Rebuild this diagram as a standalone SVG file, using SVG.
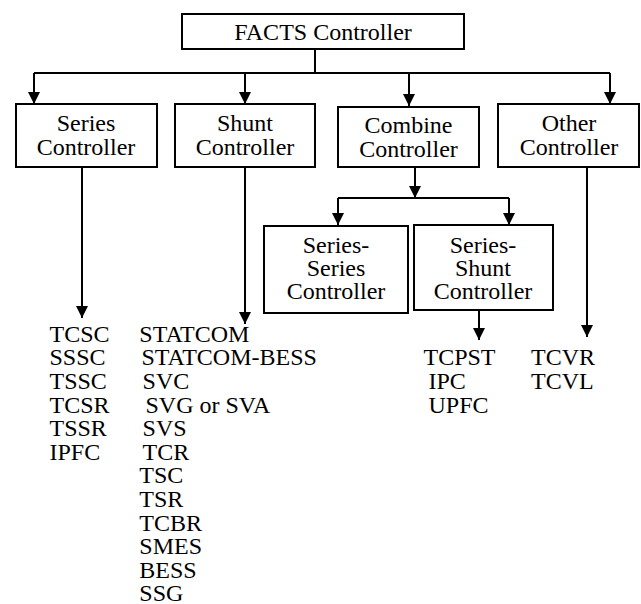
<svg xmlns="http://www.w3.org/2000/svg" width="641" height="604" viewBox="0 0 641 604">
  <style>
    .box { fill: #ffffff; stroke: #000000; stroke-width: 2; }
    .ln { fill: none; stroke: #000000; stroke-width: 2; }
  </style>
  <defs>
    <marker id="arr" markerUnits="userSpaceOnUse" markerWidth="12" markerHeight="12" refX="12" refY="6" orient="auto">
      <path d="M0,0 L12,6 L0,12 z" fill="#000000"/>
    </marker>
  </defs>
  <rect width="641" height="604" fill="#ffffff"/>

  <g id="connectors">
    <path class="ln" d="M315,49 L315,73"/>
    <path class="ln" d="M34,73 L610,73"/>
    <path class="ln" d="M34,73 L34,104" marker-end="url(#arr)"/>
    <path class="ln" d="M245,73 L245,104" marker-end="url(#arr)"/>
    <path class="ln" d="M409,73 L409,106" marker-end="url(#arr)"/>
    <path class="ln" d="M610,73 L610,104" marker-end="url(#arr)"/>
    <path class="ln" d="M82,167 L82,318" marker-end="url(#arr)"/>
    <path class="ln" d="M245,167 L245,324" marker-end="url(#arr)"/>
    <path class="ln" d="M415,167 L415,198" marker-end="url(#arr)"/>
    <path class="ln" d="M338,198 L509,198"/>
    <path class="ln" d="M338,198 L338,225" marker-end="url(#arr)"/>
    <path class="ln" d="M509,198 L509,225" marker-end="url(#arr)"/>
    <path class="ln" d="M479,310 L479,340" marker-end="url(#arr)"/>
    <path class="ln" d="M587,167 L587,337" marker-end="url(#arr)"/>
  </g>

  <g id="nodes" font-family="Liberation Serif, Times New Roman, serif" font-size="24" fill="#000000">
  <g id="facts">
    <rect class="box" x="182" y="14" width="282" height="35"/>
    <text text-anchor="middle" x="323" y="40">FACTS Controller</text>
  </g>
  <g id="series">
    <rect class="box" x="16" y="104" width="141" height="63"/>
    <text text-anchor="middle" x="86" y="131">Series</text>
    <text text-anchor="middle" x="86" y="155">Controller</text>
  </g>
  <g id="shunt">
    <rect class="box" x="175" y="104" width="140" height="63"/>
    <text text-anchor="middle" x="245" y="131">Shunt</text>
    <text text-anchor="middle" x="245" y="155">Controller</text>
  </g>
  <g id="combine">
    <rect class="box" x="338" y="107" width="141" height="60"/>
    <text text-anchor="middle" x="408.5" y="133">Combine</text>
    <text text-anchor="middle" x="408.5" y="157">Controller</text>
  </g>
  <g id="other">
    <rect class="box" x="498" y="104" width="141" height="63"/>
    <text text-anchor="middle" x="569" y="131">Other</text>
    <text text-anchor="middle" x="569" y="155">Controller</text>
  </g>
  <g id="series-series">
    <rect class="box" x="264" y="226" width="144" height="87"/>
    <text text-anchor="middle" x="336" y="253">Series-</text>
    <text text-anchor="middle" x="336" y="276">Series</text>
    <text text-anchor="middle" x="336" y="299">Controller</text>
  </g>
  <g id="series-shunt">
    <rect class="box" x="414" y="225" width="139" height="85"/>
    <text text-anchor="middle" x="483" y="253">Series-</text>
    <text text-anchor="middle" x="483" y="276">Shunt</text>
    <text text-anchor="middle" x="483" y="299">Controller</text>
  </g>

  <g id="series-list">
    <text x="49.5" y="341.7">TCSC</text>
    <text x="49.5" y="365.3">SSSC</text>
    <text x="49.5" y="388.9">TSSC</text>
    <text x="49.5" y="412.5">TCSR</text>
    <text x="49.5" y="436.1">TSSR</text>
    <text x="49.5" y="459.7">IPFC</text>
  </g>
  <g id="shunt-list">
    <text x="139.3" y="341.7">STATCOM</text>
    <text x="141.4" y="365.3">STATCOM-BESS</text>
    <text x="142.6" y="388.9">SVC</text>
    <text x="145.5" y="412.5">SVG or SVA</text>
    <text x="142.6" y="436.1">SVS</text>
    <text x="142.6" y="459.7">TCR</text>
    <text x="139.3" y="483.3">TSC</text>
    <text x="139.3" y="506.9">TSR</text>
    <text x="139.3" y="530.5">TCBR</text>
    <text x="139.3" y="554.1">SMES</text>
    <text x="139.3" y="577.7">BESS</text>
    <text x="139.3" y="600.5">SSG</text>
  </g>
  <g id="combine-list">
    <text x="423.5" y="364.5">TCPST</text>
    <text x="428.5" y="388.5">IPC</text>
    <text x="428.5" y="412.5">UPFC</text>
  </g>
  <g id="other-list">
    <text x="531" y="364.5">TCVR</text>
    <text x="531" y="388.5">TCVL</text>
  </g>
  </g>
</svg>
